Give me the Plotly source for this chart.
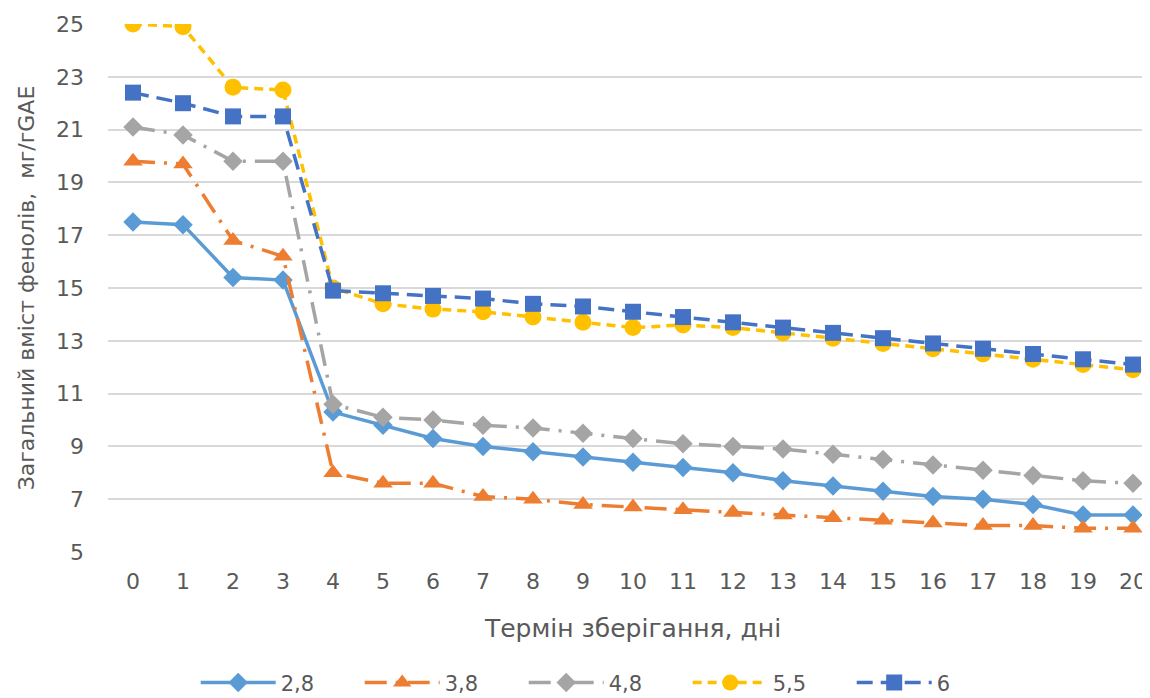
import plotly.graph_objects as go

days = list(range(21))
s28 = [17.5, 17.4, 15.4, 15.3, 10.3, 9.8, 9.3, 9.0, 8.8, 8.6, 8.4, 8.2, 8.0, 7.7, 7.5, 7.3, 7.1, 7.0, 6.8, 6.4, 6.4]
s38 = [19.8, 19.7, 16.8, 16.2, 8.0, 7.6, 7.6, 7.1, 7.0, 6.8, 6.7, 6.6, 6.5, 6.4, 6.3, 6.2, 6.1, 6.0, 6.0, 5.9, 5.9]
s48 = [21.1, 20.8, 19.8, 19.8, 10.6, 10.1, 10.0, 9.8, 9.7, 9.5, 9.3, 9.1, 9.0, 8.9, 8.7, 8.5, 8.3, 8.1, 7.9, 7.7, 7.6]
s55 = [25.0, 24.9, 22.6, 22.5, 15.0, 14.4, 14.2, 14.1, 13.9, 13.7, 13.5, 13.6, 13.5, 13.3, 13.1, 12.9, 12.7, 12.5, 12.3, 12.1, 11.9]
s6 = [22.4, 22.0, 21.5, 21.5, 14.9, 14.8, 14.7, 14.6, 14.4, 14.3, 14.1, 13.9, 13.7, 13.5, 13.3, 13.1, 12.9, 12.7, 12.5, 12.3, 12.1]

names = ["2,8", "3,8", "4,8", "5,5", "6"]
series = [s28, s38, s48, s55, s6]
colors = ["#5B9BD5", "#ED7D31", "#A5A5A5", "#FFC000", "#4472C4"]
dashes = ["solid", "22px,9px,3px,9px", "22px,9px,3px,9px", "9px,6px", "16px,8px"]
symbols = ["diamond", "triangle-up", "diamond", "circle", "square"]
sizes = [15, 17, 15, 17, 16]

fig = go.Figure()
for n, s, c, d, sym, sz in zip(names, series, colors, dashes, symbols, sizes):
    fig.add_trace(go.Scatter(
        x=days, y=s, name=n, mode="lines+markers",
        line=dict(color=c, width=3.5, dash=d),
        marker=dict(symbol=sym, size=sz, color=c),
    ))

fig.update_layout(
    width=1150, height=706,
    margin=dict(l=100, r=0, t=16, b=162),
    paper_bgcolor="white", plot_bgcolor="white",
    font=dict(family="DejaVu Sans, sans-serif", size=22, color="#595959"),
    xaxis=dict(
        range=[-0.5, 20.5], tickmode="array", tickvals=days,
        ticktext=[str(d) for d in days], showgrid=False, zeroline=False,
        showline=False, ticks="", automargin=False, ticklabelstandoff=14,
        tickfont=dict(size=22),
        title=dict(text="Термін зберігання, дні", font=dict(size=25), standoff=26),
    ),
    yaxis=dict(
        range=[5, 25], tickmode="array", tickvals=list(range(5, 26, 2)),
        showgrid=True, gridcolor="#D9D9D9", gridwidth=1.5, zeroline=False,
        showline=False, ticks="", ticklabelstandoff=23, automargin=False,
        tickfont=dict(size=22),
        title=dict(text="Загальний вміст фенолів,  мг/гGAE", font=dict(size=22), standoff=15),
    ),
    legend=dict(orientation="h", x=0.474, xanchor="center", y=-0.248, yanchor="middle",
                font=dict(size=21), traceorder="normal", itemwidth=75,
                entrywidth=74, entrywidthmode="pixels"),
)

fig.write_html("out.html")
